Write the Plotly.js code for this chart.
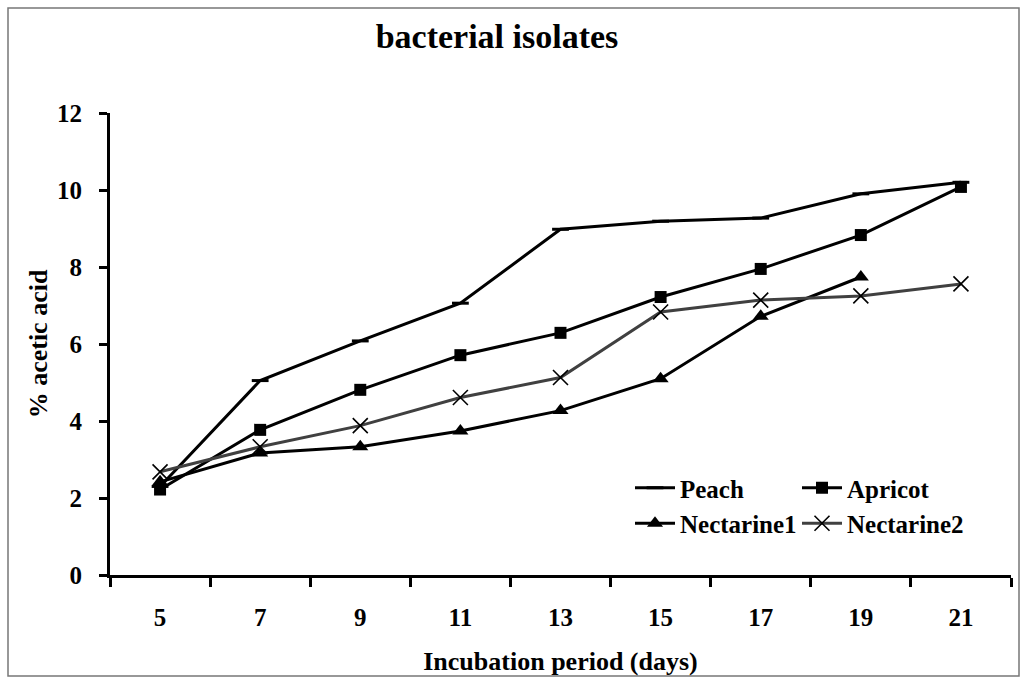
<!DOCTYPE html>
<html>
<head>
<meta charset="utf-8">
<script src="https://cdn.plot.ly/plotly-3.0.1.min.js"></script>
<style>
html,body{margin:0;padding:0;background:#fff;}
#chart{width:1027px;height:683px;}
</style>
</head>
<body>
<div id="chart"></div>
<script>
const days = ['5','7','9','11','13','15','17','19','21'];
const peach = [2.3, 5.05, 6.08, 7.06, 8.98, 9.19, 9.27, 9.9, 10.2];
const apricot = [2.22, 3.77, 4.81, 5.71, 6.29, 7.22, 7.95, 8.83, 10.08];
const nectarine1 = [2.42, 3.17, 3.33, 3.74, 4.27, 5.1, 6.72, 7.74];
const nectarine2 = [2.68, 3.33, 3.88, 4.61, 5.13, 6.83, 7.14, 7.25, 7.56];
const yTicks = [0, 2, 4, 6, 8, 10, 12];

const FONT = 'Liberation Serif, Times New Roman, serif';

const traces = [
  {name:'Peach', x:days, y:peach, type:'scatter', mode:'lines+markers', legend:'legend',
   line:{color:'#000', width:3},
   marker:{symbol:'line-ew', size:12, color:'#000', line:{color:'#000', width:3}}},
  {name:'Apricot', x:days, y:apricot, type:'scatter', mode:'lines+markers', legend:'legend2',
   line:{color:'#000', width:3},
   marker:{symbol:'square', size:12, color:'#000'}},
  {name:'Nectarine1', x:days.slice(0, nectarine1.length), y:nectarine1, type:'scatter', mode:'lines+markers', legend:'legend',
   line:{color:'#000', width:3},
   marker:{symbol:'triangle-up', size:14, color:'#000'}},
  {name:'Nectarine2', x:days, y:nectarine2, type:'scatter', mode:'lines+markers', legend:'legend2',
   line:{color:'#404040', width:3},
   marker:{symbol:'x-thin', size:15, color:'#000', line:{color:'#000', width:1.6}}}
];

const W = 1027, H = 683;
const L = 110, R = 16, T = 113, B = 108;
const pw = W - L - R, ph = H - T - B;
function px2x(p){ return (p - L) / pw; }
function py2y(p){ return (H - B - p) / ph; }

const layout = {
  width: W, height: H,
  margin: {l:L, r:R, t:T, b:B},
  paper_bgcolor:'#fff', plot_bgcolor:'#fff',
  font:{family:FONT, color:'#000', size:25, weight:'bold'},
  title:{text:'bacterial isolates', font:{family:FONT, size:34, weight:'bold', color:'#000'},
         x:497/W, xanchor:'center', xref:'container', y:1 - 36/H, yanchor:'middle', yref:'container'},
  xaxis:{type:'category', categoryorder:'array', categoryarray:days, range:[-0.5, 8.5],
         tickson:'boundaries', ticks:'outside', ticklen:9, tickwidth:3, tickcolor:'#000',
         showline:true, linecolor:'#000', linewidth:3, showgrid:false, zeroline:false,
         tickfont:{family:FONT, size:25, weight:'bold'}, ticklabelstandoff:18,
         title:{text:'Incubation period (days)', font:{family:FONT, size:26, weight:'bold'}, standoff:22},
         fixedrange:true},
  yaxis:{range:[0, 12], tickvals:yTicks, ticktext:yTicks.map(String),
         ticks:'outside', ticklen:8, tickwidth:3, tickcolor:'#000',
         showline:true, linecolor:'#000', linewidth:3, showgrid:false, zeroline:false,
         tickfont:{family:FONT, size:25, weight:'bold'}, ticklabelstandoff:12,
         title:{text:'% acetic acid', font:{family:FONT, size:26, weight:'bold'}, standoff:2},
         fixedrange:true},
  legend:{x:px2x(630), y:py2y(465), xanchor:'left', yanchor:'top', bgcolor:'rgba(0,0,0,0)',
          borderwidth:0, font:{family:FONT, size:25, weight:'bold'}, tracegroupgap:0, itemwidth:40},
  legend2:{x:px2x(797), y:py2y(465), xanchor:'left', yanchor:'top', bgcolor:'rgba(0,0,0,0)',
          borderwidth:0, font:{family:FONT, size:25, weight:'bold'}, tracegroupgap:0, itemwidth:40},
  shapes:[{type:'rect', xref:'paper', yref:'paper', x0:px2x(8), x1:px2x(1019), y0:py2y(676), y1:py2y(8),
           line:{color:'#777', width:1.5}, fillcolor:'rgba(0,0,0,0)', layer:'below'}]
};

Plotly.newPlot('chart', traces, layout, {displayModeBar:false, staticPlot:true});
</script>
</body>
</html>
